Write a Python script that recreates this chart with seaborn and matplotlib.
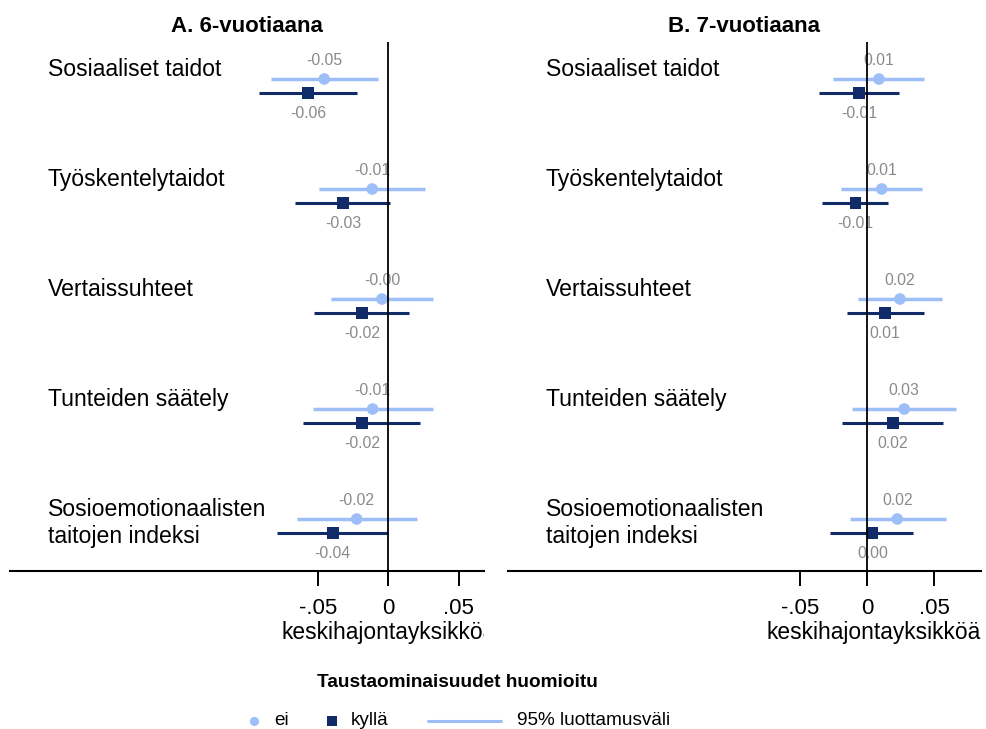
import numpy as np
import pandas as pd
import matplotlib
matplotlib.use("Agg")
import matplotlib.pyplot as plt
import matplotlib.transforms as mtransforms
import seaborn as sns

sns.set_style("white")
plt.rcParams["font.family"] = ["Liberation Sans", "DejaVu Sans"]
plt.rcParams["text.color"] = "black"
plt.rcParams["axes.labelcolor"] = "black"
plt.rcParams["axes.titlecolor"] = "black"
plt.rcParams["xtick.color"] = "black"

categories = ["Sosiaaliset taidot", "Työskentelytaidot", "Vertaissuhteet",
              "Tunteiden säätely", "Sosioemotionaalisten\ntaitojen indeksi"]
panel_titles = ["A. 6-vuotiaana", "B. 7-vuotiaana"]
groups = ["ei", "kyllä"]

A_ei_est = [-0.0454, -0.0114, -0.0045, -0.0111, -0.0224]
A_ei_lo = [-0.0832, -0.0489, -0.0404, -0.0536, -0.0650]
A_ei_hi = [-0.0075, 0.0258, 0.0317, 0.0315, 0.0206]
A_ky_est = [-0.0570, -0.0321, -0.0187, -0.0187, -0.0394]
A_ky_lo = [-0.0917, -0.0660, -0.0529, -0.0605, -0.0787]
A_ky_hi = [-0.0224, 0.0012, 0.0149, 0.0227, 0.0000]

B_ei_est = [0.0087, 0.0107, 0.0243, 0.0275, 0.0223]
B_ei_lo = [-0.0253, -0.0196, -0.0069, -0.0112, -0.0129]
B_ei_hi = [0.0422, 0.0409, 0.0558, 0.0662, 0.0583]
B_ky_est = [-0.0062, -0.0089, 0.0132, 0.0191, 0.0040]
B_ky_lo = [-0.0357, -0.0339, -0.0153, -0.0186, -0.0278]
B_ky_hi = [0.0236, 0.0152, 0.0422, 0.0565, 0.0342]

xticks = [-0.05, 0, 0.05]
xtick_labels = ["-.05", "0", ".05"]
xlabel = "keskihajontayksikköä"
legend_title = "Taustaominaisuudet huomioitu"
legend_labels = ["ei", "kyllä", "95% luottamusväli"]

C_EI = "#9DBEF6"
C_KY = "#102B68"
GRAY = "#8A8A8A"

def build(ei_est, ei_lo, ei_hi, ky_est, ky_lo, ky_hi):
    rows = []
    for i, c in enumerate(categories):
        rows.append(dict(cat=c, row=i + 1, group="ei", est=ei_est[i], lo=ei_lo[i], hi=ei_hi[i]))
        rows.append(dict(cat=c, row=i + 1, group="kyllä", est=ky_est[i], lo=ky_lo[i], hi=ky_hi[i]))
    df = pd.DataFrame(rows)
    df["y"] = df["row"] + np.where(df["group"] == "ei", -0.0636, 0.0636)
    return df

dfs = [build(A_ei_est, A_ei_lo, A_ei_hi, A_ky_est, A_ky_lo, A_ky_hi),
       build(B_ei_est, B_ei_lo, B_ei_hi, B_ky_est, B_ky_lo, B_ky_hi)]
xlims = [(-0.2683, 0.0679), (-0.2673, 0.0846)]

W, H = 986, 729
fig = plt.figure(figsize=(W / 100, H / 100), dpi=100)
ax_rects = [[10 / W, (H - 571) / H, 474 / W, 529 / H],
            [508 / W, (H - 571) / H, 473 / W, 529 / H]]

for k in range(2):
    ax = fig.add_axes(ax_rects[k])
    df = dfs[k]
    for g, col, lw in [("ei", C_EI, 2.5), ("kyllä", C_KY, 2.2)]:
        sub = df[df["group"] == g]
        ax.hlines(sub["y"], sub["lo"], sub["hi"], color=col, lw=lw, zorder=2)
    sns.scatterplot(data=df, x="est", y="y", hue="group", style="group",
                    palette={"ei": C_EI, "kyllä": C_KY},
                    markers={"ei": "o", "kyllä": "s"}, s=70, linewidth=0,
                    legend=False, ax=ax, zorder=3)
    for _, r in df.iterrows():
        if r["group"] == "ei":
            off = 13
        else:
            off = -15
        ax.annotate(f"{r['est']:.2f}", (r["est"], r["y"]), xytext=(0, off),
                    textcoords="offset points", ha="center", va="center",
                    fontsize=11.3, color=GRAY, zorder=1)
    ax.axvline(0, color="black", lw=1.3, zorder=4)
    trans = mtransforms.blended_transform_factory(ax.transAxes, ax.transData)
    for i, c in enumerate(categories):
        ax.text(0.08, i + 1 - 0.255, c, transform=trans, ha="left", va="top",
                fontsize=16.6, color="black", linespacing=1.2)
    ax.set_xlim(*xlims[k])
    ax.set_ylim(5.409, 0.6)
    ax.set_yticks([])
    ax.set_xticks(xticks)
    ax.set_xticklabels(xtick_labels, fontsize=16, color="black")
    ax.tick_params(axis="x", direction="out", length=10.8, width=1.4, pad=8.5,
                   bottom=True, colors="black")
    for s in ["top", "left", "right"]:
        ax.spines[s].set_visible(False)
    ax.spines["bottom"].set_linewidth(1.5)
    ax.spines["bottom"].set_color("black")
    ax.set_xlabel("")
    ax.set_ylabel("")
    ax.set_title(panel_titles[k], fontsize=16, fontweight="bold", pad=7.2, color="black")

ov = fig.add_axes([0, 0, 1, 1])
ov.set_xlim(0, W)
ov.set_ylim(H, 0)
ov.axis("off")
ov.patch.set_visible(False)

tA = ov.text(389, 621, xlabel, ha="center", va="top", fontsize=16.4, color="black")
tA.set_clip_box(mtransforms.TransformedBbox(mtransforms.Bbox([[0, 0], [484, H]]), ov.transData))
tA.set_clip_on(True)
tB = ov.text(874, 621, xlabel, ha="center", va="top", fontsize=16.4, color="black")
tB.set_clip_on(False)

ov.text(457.5, 687, legend_title, ha="center", va="baseline", fontsize=13.7,
        fontweight="bold", color="black")
ov.plot([254], [721], marker="o", ms=6.6, color=C_EI, mew=0, ls="none")
ov.text(274, 725, legend_labels[0], ha="left", va="baseline", fontsize=13.7, color="black")
ov.plot([331.7], [720.5], marker="s", ms=6.6, color=C_KY, mew=0, ls="none")
ov.text(351, 725, legend_labels[1], ha="left", va="baseline", fontsize=13.7, color="black")
ov.plot([428, 501], [720.7, 720.7], color=C_EI, lw=2.2)
ov.text(516.7, 725, legend_labels[2], ha="left", va="baseline", fontsize=13.7, color="black")

fig.savefig("out.png", dpi=100)
